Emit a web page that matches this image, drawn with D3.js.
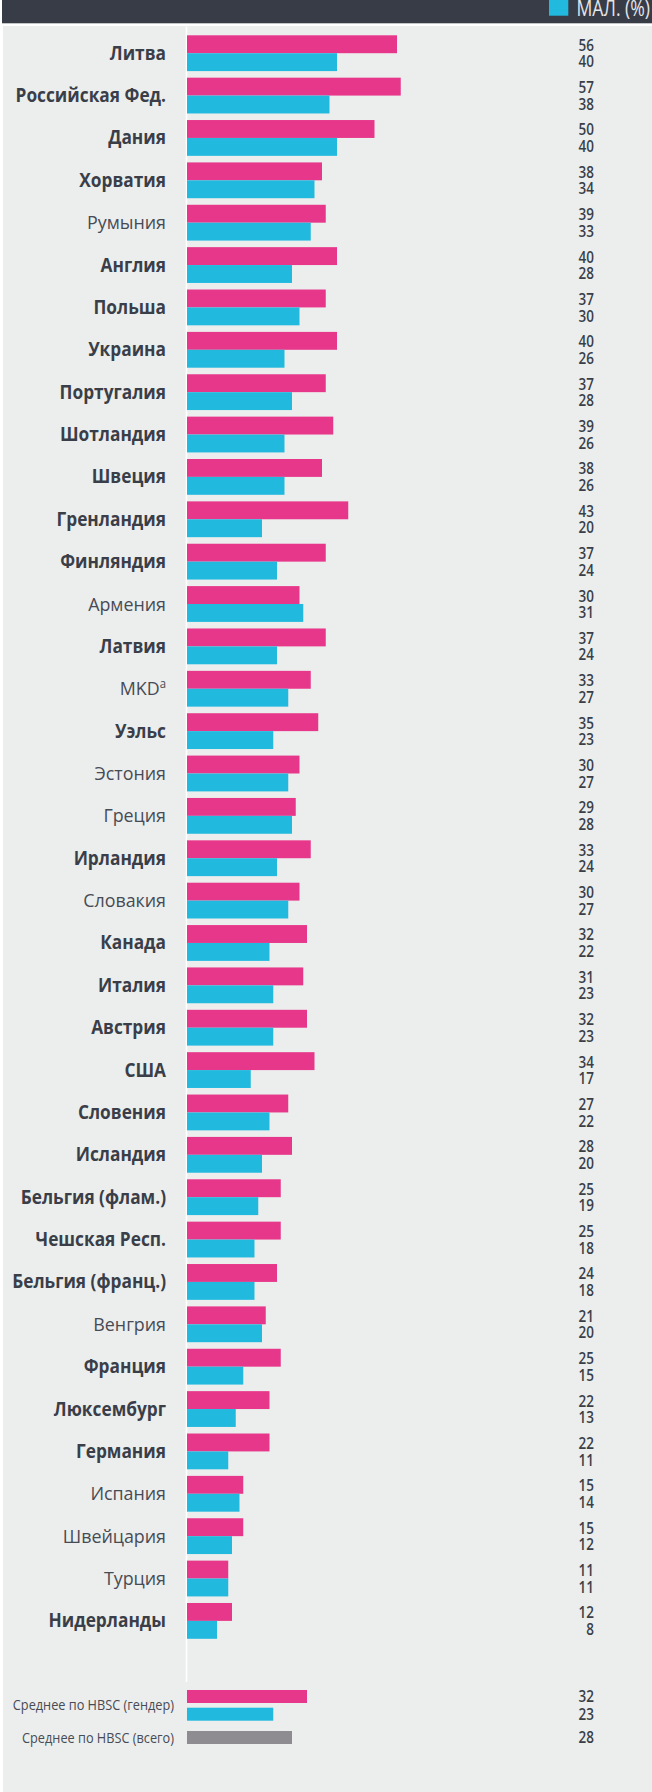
<!DOCTYPE html>
<html><head><meta charset="utf-8">
<script src="https://cdn.jsdelivr.net/npm/d3@7"></script>
<style>
html,body{margin:0;padding:0;background:#fff;}
svg{display:block;}
text{font-family:"Open Sans","Noto Sans",sans-serif;}
</style></head>
<body>
<script>
const countries = ["Литва","Российская Фед.","Дания","Хорватия","Румыния","Англия","Польша","Украина","Португалия","Шотландия","Швеция","Гренландия","Финляндия","Армения","Латвия","MKD","Уэльс","Эстония","Греция","Ирландия","Словакия","Канада","Италия","Австрия","США","Словения","Исландия","Бельгия (флам.)","Чешская Респ.","Бельгия (франц.)","Венгрия","Франция","Люксембург","Германия","Испания","Швейцария","Турция","Нидерланды"];
// values as printed in the labels
const girlsText = [56,57,50,38,39,40,37,40,37,39,38,43,37,30,37,33,35,30,29,33,30,32,31,32,34,27,28,25,25,24,21,25,22,22,15,15,11,12];
const boysText  = [40,38,40,34,33,28,30,26,28,26,26,20,24,31,24,27,23,27,28,24,27,22,23,23,17,22,20,19,18,18,20,15,13,11,14,12,11,8];
// bar lengths as drawn in the picture (a few bars differ slightly from their printed label)
const girls = [56,57,50,36,37,40,37,40,37,39,36,43,37,30,37,33,35,30,29,33,30,32,31,32,34,27,28,25,25,24,21,25,22,22,15,15,11,12];
const boys  = [40,38,40,34,33,28,30,26,28,26,26,20,24,31,24,27,23,27,28,24,27,22,23,23,17,22,20,19,18,18,20,15,13,11,14,12,11,8];
const normalWeight = ["Румыния","Армения","MKD","Эстония","Греция","Словакия","Венгрия","Испания","Швейцария","Турция"];
const avgLabels = ["Среднее по HBSC (гендер)","Среднее по HBSC (всего)"];
const avgGirls = 32, avgBoys = 23, avgAll = 28;
const legendLabel = "МАЛ. (%)";

const W = 652, H = 1792;
const PINK = "#e7378a", CYAN = "#22b9de", GREY = "#8f8c91", DARK = "#3a3e48";

const svg = d3.select("body").append("svg").attr("width", W).attr("height", H);

svg.append("rect").attr("x",3).attr("y",26).attr("width",W-3).attr("height",H-26).attr("fill","#eceeed");
svg.append("rect").attr("x",2).attr("y",0).attr("width",W-2).attr("height",23.3).attr("fill","#373c47");

svg.append("rect").attr("x",549).attr("y",-3).attr("width",19.3).attr("height",18.7).attr("fill",CYAN);
svg.append("text").attr("transform","translate(576.5,16) scale(0.84,1)")
  .attr("font-size",21).attr("fill","#e4e6ea").text(legendLabel);

const x = d3.scaleLinear().domain([0,100]).range([187, 187+375]);
const step = 42.37, pad = 1 - 35.8/step;
const y = d3.scaleBand().domain(countries)
  .range([35.3 - step*pad/2, 35.3 - step*pad/2 + step*countries.length])
  .paddingInner(pad).paddingOuter(pad/2);
const sub = d3.scaleBand().domain(["g","b"]).range([0, y.bandwidth()]);

const axisY = d3.scaleLinear().domain([0,1]).range([26, 1681.5]);
svg.append("g").attr("transform","translate(186,0)")
  .call(d3.axisLeft(axisY).ticks(0).tickSize(0).tickSizeOuter(0))
  .call(g=>{g.select(".domain").attr("stroke","#ffffff").attr("stroke-width",1.5); g.selectAll("text").remove();});

const rows = svg.append("g").selectAll("g").data(countries).join("g")
  .attr("transform", d=>`translate(0,${y(d)})`);

rows.append("rect").attr("x",x(0)).attr("y",sub("g")).attr("height",sub.bandwidth())
  .attr("width",(d,i)=>x(girls[i])-x(0)).attr("fill",PINK);
rows.append("rect").attr("x",x(0)).attr("y",sub("b")).attr("height",sub.bandwidth())
  .attr("width",(d,i)=>x(boys[i])-x(0)).attr("fill",CYAN);

rows.each(function(d,i){
  const g = d3.select(this);
  const isNormal = normalWeight.includes(d);
  const t = g.append("text").attr("transform",`translate(166,24.4) scale(${isNormal?0.94:0.91},1)`)
    .attr("text-anchor","end").attr("font-size",19)
    .attr("font-weight", isNormal ? 400 : 700)
    .attr("fill", isNormal ? "#474b55" : DARK);
  if (d === "MKD") {
    t.append("tspan").text("MKD");
    t.append("tspan").attr("font-size",12).attr("dy",-7).text("a");
  } else t.text(d);
  g.append("text").attr("transform","translate(594,15.4) scale(0.87,1)")
    .attr("text-anchor","end").attr("font-size",15.5).attr("font-weight",600).attr("fill",DARK).text(girlsText[i]);
  g.append("text").attr("transform","translate(594,32) scale(0.87,1)")
    .attr("text-anchor","end").attr("font-size",15.5).attr("font-weight",600).attr("fill",DARK).text(boysText[i]);
});

const avgRows = [
  {v:avgGirls, c:PINK, top:1690},
  {v:avgBoys, c:CYAN, top:1707.7},
  {v:avgAll, c:GREY, top:1731}
];
svg.append("g").selectAll("rect").data(avgRows).join("rect")
  .attr("x",x(0)).attr("y",d=>d.top).attr("height",13)
  .attr("width",d=>x(d.v)-x(0)).attr("fill",d=>d.c);
svg.append("g").selectAll("text").data(avgRows).join("text")
  .attr("transform",d=>`translate(594,${d.top+12.2}) scale(0.87,1)`)
  .attr("text-anchor","end").attr("font-size",15.5).attr("font-weight",600).attr("fill",DARK).text(d=>d.v);
svg.append("text").attr("transform","translate(174,1709.5) scale(0.91,1)")
  .attr("text-anchor","end").attr("font-size",14).attr("fill","#474b55").text(avgLabels[0]);
svg.append("text").attr("transform","translate(174,1743) scale(0.91,1)")
  .attr("text-anchor","end").attr("font-size",14).attr("fill","#474b55").text(avgLabels[1]);
</script>
</body></html>
